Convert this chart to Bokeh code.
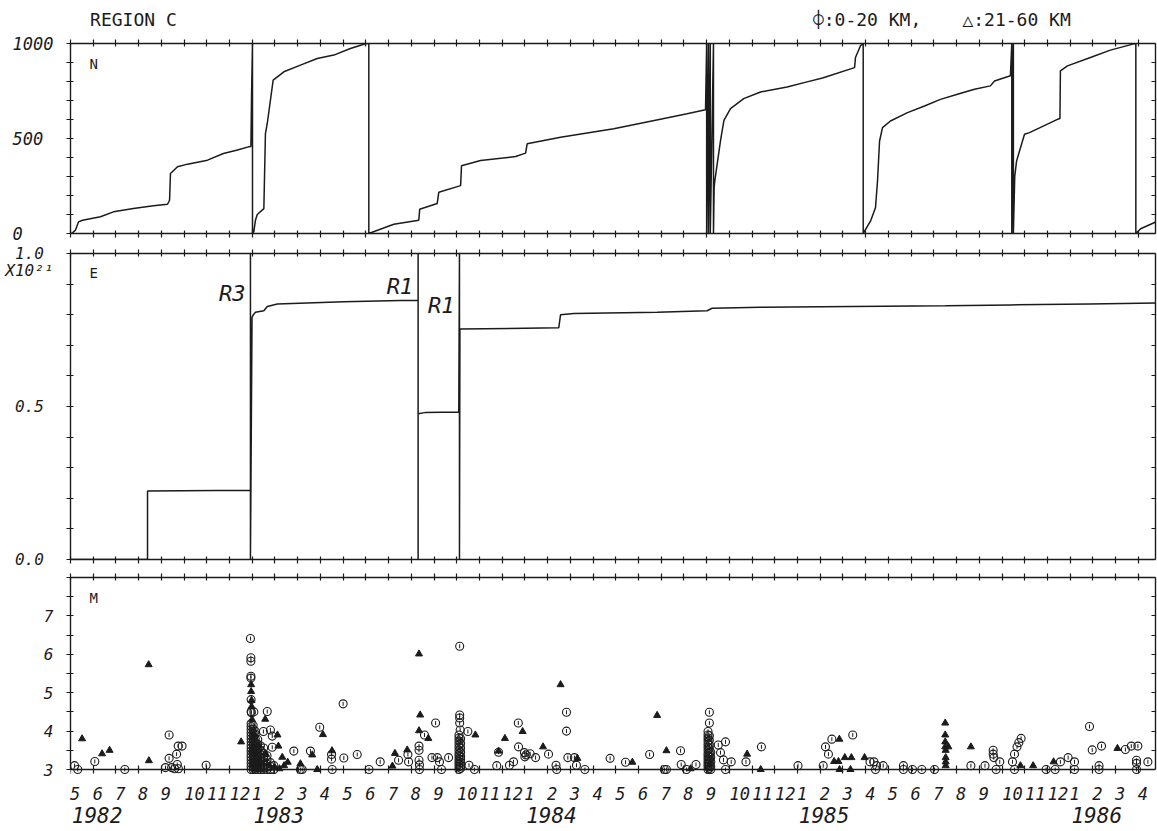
from bokeh.plotting import figure
from bokeh.layouts import column
from bokeh.models import Range1d, FixedTicker, LinearAxis, Label, CustomJSTickFormatter
from bokeh.embed import file_html
from bokeh.resources import INLINE

INK = "#1b1b1b"
FONT = "DejaVu Sans Mono"
NB = "\u00a0"

# ---------------- data (x = months since 1 May 1982) ----------------
month_ticks = list(range(48))
month_labels = ["5", "6", "7", "8", "9", "10", "11", "12",
                "1", "2", "3", "4", "5", "6", "7", "8", "9", "10", "11", "12",
                "1", "2", "3", "4", "5", "6", "7", "8", "9", "10", "11", "12",
                "1", "2", "3", "4", "5", "6", "7", "8", "9", "10", "11", "12",
                "1", "2", "3", "4"]
year_ticks = [0, 8, 20, 32, 44]
year_labels = ["1982", "1983", "1984", "1985", "1986"]

n_ticks = [0, 100, 200, 300, 400, 500, 600, 700, 800, 900, 1000]
n_labels = {0: "0" + NB * 3, 500: "500" + NB, 1000: "1000"}
e_ticks = [0.0, 0.1, 0.2, 0.3, 0.4, 0.5, 0.6, 0.7, 0.8, 0.9, 1.0]
e_labels = {0.0: "0.0" + NB, 0.5: "0.5" + NB, 1.0: "1.0" + NB, 0.943: "X10\u00b2\u00b9"}
m_ticks = [3.0, 3.5, 4.0, 4.5, 5.0, 5.5, 6.0, 6.5, 7.0, 7.5, 8.0]
m_labels = {3: "3", 4: "4", 5: "5", 6: "6", 7: "7"}

title_text = "REGION C"
legend_texts = ["\u233d:0-20 KM,", "\u25b3:21-60 KM"]

# cumulative number of events (plotted modulo 1000)
n_curve = [(0.0, 0), (0.05, 0), (0.22, 18), (0.35, 61), (0.53, 70), (1.32, 88), (1.89, 114),
           (2.77, 132), (3.65, 146), (4.27, 154), (4.36, 175), (4.40, 316), (4.71, 351),
           (5.15, 365), (6.03, 386), (6.73, 421), (7.35, 439), (7.83, 456), (7.94, 458),
           (7.97, 737), (8.01, 1000), (8.01, 0), (8.07, 10), (8.14, 70), (8.22, 100),
           (8.51, 131), (8.58, 526), (8.66, 579), (8.92, 807), (9.39, 851), (10.12, 886),
           (10.86, 921), (11.59, 939), (12.32, 974), (12.91, 996), (13.06, 1000),
           (13.13, 1000), (13.13, 0), (14.23, 49), (15.33, 70), (15.37, 128), (16.14, 158),
           (16.21, 217), (17.17, 252), (17.21, 357), (18.05, 384), (19.59, 405),
           (20.03, 423), (20.10, 472), (21.57, 507), (23.91, 551), (25.80, 597),
           (27.14, 630), (27.95, 651), (28.00, 1000), (28.00, 0), (28.08, 1000),
           (28.08, 0), (28.16, 1000), (28.16, 0), (28.30, 1000), (28.30, 0), (28.33, 243),
           (28.36, 278), (28.61, 489), (28.76, 595), (29.05, 657), (29.63, 710),
           (30.37, 745), (31.54, 771), (32.42, 798), (33.10, 818), (34.51, 873),
           (34.55, 926), (34.77, 988), (34.89, 1000), (34.89, 0), (35.21, 65),
           (35.43, 135), (35.52, 276), (35.61, 487), (35.74, 557), (36.09, 592),
           (36.84, 636), (37.59, 671), (38.29, 706), (39.04, 733), (39.79, 759),
           (40.49, 777), (40.67, 803), (41.37, 830), (41.43, 1000), (41.43, 0),
           (41.50, 1000), (41.50, 0), (41.56, 300), (41.64, 381), (41.77, 434),
           (41.99, 522), (42.21, 531), (43.44, 601), (43.55, 605), (43.57, 856),
           (43.88, 882), (44.89, 926), (45.77, 965), (46.80, 998), (46.89, 1000),
           (46.89, 0), (47.10, 25), (47.90, 68)]

# cumulative energy, units of 1e21 (plotted modulo 1.0)
e_curve = [(0.0, 0.0), (3.39, 0.0), (3.39, 0.224), (7.92, 0.226), (7.92, 1.0), (7.92, 0.0),
           (7.92, 1.0), (7.92, 0.0), (7.92, 1.0), (7.92, 0.0), (7.99, 0.791), (8.05, 0.800),
           (8.14, 0.808), (8.51, 0.813), (8.66, 0.827), (9.10, 0.835), (12.03, 0.842),
           (14.52, 0.846), (15.30, 0.846), (15.30, 1.0), (15.30, 0.0), (15.30, 0.476),
           (15.60, 0.480), (17.09, 0.482), (17.12, 1.0), (17.12, 0.0), (17.14, 0.753),
           (21.49, 0.757), (21.57, 0.800), (22.15, 0.804), (25.82, 0.808), (28.02, 0.813),
           (28.24, 0.821), (30.37, 0.824), (34.40, 0.827), (38.50, 0.829), (41.40, 0.832),
           (44.85, 0.835), (47.90, 0.838)]

# wrap markers on the energy curve: (month, E level of label, text)
e_marks = [(7.92, 0.869, "R3"), (15.30, 0.891, "R1"), (17.12, 0.829, "R1")]

# magnitude of events, depth 0-20 km
shallow = [
    (0.18, 3.1), (0.32, 3.0), (1.07, 3.21), (2.39, 3.0), (4.18, 3.05), (4.34, 3.9),
    (4.34, 3.29), (4.45, 3.05), (4.58, 3.02), (4.67, 3.4), (4.70, 3.13), (4.74, 3.61),
    (4.75, 3.02), (4.91, 3.61), (5.97, 3.11),
    (7.92, 6.41), (7.94, 5.91), (7.94, 5.82), (7.94, 5.43), (7.94, 5.38), (7.95, 4.82),
    (7.95, 4.51), (7.96, 4.48), (8.07, 4.50), (8.66, 4.51), (8.49, 3.99), (8.80, 4.03),
    (8.88, 3.87), (8.88, 3.58),
    (7.95, 3.0), (7.95, 3.08), (7.95, 3.16), (7.95, 3.24), (7.95, 3.32), (7.95, 3.4),
    (7.95, 3.48), (7.95, 3.56), (7.95, 3.64), (7.95, 3.72), (7.95, 3.8), (7.95, 3.88),
    (7.95, 3.96), (7.95, 4.04), (7.95, 4.12), (7.95, 4.2),
    (8.04, 3.0), (8.04, 3.07), (8.04, 3.15), (8.04, 3.23), (8.04, 3.31), (8.04, 3.39),
    (8.04, 3.47), (8.04, 3.55), (8.04, 3.63), (8.04, 3.71), (8.04, 3.79), (8.04, 3.87),
    (8.04, 3.95), (8.04, 4.05), (8.04, 4.15),
    (8.13, 3.0), (8.13, 3.06), (8.13, 3.13), (8.13, 3.2), (8.13, 3.28), (8.13, 3.36),
    (8.13, 3.44), (8.13, 3.52), (8.13, 3.6), (8.13, 3.7), (8.13, 3.8), (8.13, 3.92),
    (8.13, 4.0),
    (8.24, 3.0), (8.24, 3.05), (8.24, 3.12), (8.24, 3.2), (8.24, 3.28), (8.24, 3.36),
    (8.24, 3.45), (8.24, 3.55), (8.24, 3.66), (8.24, 3.78),
    (8.36, 3.0), (8.36, 3.06), (8.36, 3.14), (8.36, 3.22), (8.36, 3.3), (8.36, 3.4),
    (8.36, 3.5), (8.36, 3.62),
    (8.50, 3.0), (8.50, 3.05), (8.50, 3.12), (8.50, 3.2), (8.50, 3.3), (8.50, 3.42),
    (8.50, 3.56),
    (8.65, 3.0), (8.65, 3.06), (8.65, 3.14), (8.65, 3.24), (8.65, 3.36),
    (8.80, 3.0), (8.80, 3.08), (8.80, 3.18), (8.95, 3.0), (8.95, 3.1),
    (9.83, 3.48), (10.12, 3.0), (10.20, 3.0), (10.56, 3.48), (10.97, 4.1), (11.49, 3.39),
    (11.49, 3.27), (11.52, 3.0), (12.00, 4.71), (12.03, 3.3), (12.62, 3.39), (13.14, 3.0),
    (13.63, 3.2), (14.44, 3.24), (14.85, 3.39), (14.88, 3.2),
    (15.34, 3.61), (15.34, 3.5), (15.34, 3.24), (15.36, 3.12), (15.36, 3.0), (15.58, 3.9),
    (16.07, 4.21), (15.91, 3.31), (16.15, 3.31), (16.24, 3.2), (16.33, 3.0), (16.64, 3.31),
    (17.13, 6.21), (17.13, 4.42), (17.13, 4.34), (17.13, 4.21), (17.15, 4.03),
    (17.10, 3.0), (17.10, 3.07), (17.10, 3.14), (17.10, 3.21), (17.10, 3.28), (17.10, 3.35),
    (17.10, 3.42), (17.10, 3.5), (17.10, 3.58), (17.10, 3.66), (17.10, 3.74), (17.10, 3.82),
    (17.10, 3.9),
    (17.17, 3.03), (17.17, 3.1), (17.17, 3.18), (17.17, 3.26), (17.17, 3.34), (17.17, 3.45),
    (17.17, 3.56), (17.17, 3.68), (17.17, 3.8),
    (17.49, 3.99), (17.54, 3.11), (17.78, 3.0), (18.76, 3.1), (18.84, 3.45), (19.32, 3.11),
    (19.50, 3.2), (19.71, 4.21), (19.72, 3.59), (19.98, 3.44), (20.05, 3.38), (20.00, 3.33),
    (20.23, 3.41), (20.47, 3.31), (21.04, 3.4), (21.37, 3.11), (21.40, 3.0), (21.83, 4.49),
    (21.83, 4.0), (21.89, 3.31), (22.18, 3.31), (22.27, 3.11), (22.64, 3.0),
    (23.75, 3.29), (24.43, 3.19), (25.49, 3.39), (26.14, 3.0), (26.23, 3.0), (26.85, 3.49),
    (26.88, 3.13), (27.11, 3.0), (27.53, 3.13),
    (28.06, 3.0), (28.06, 3.07), (28.06, 3.14), (28.06, 3.21), (28.06, 3.28), (28.06, 3.35),
    (28.06, 3.42), (28.06, 3.5), (28.06, 3.58), (28.06, 3.66), (28.06, 3.74), (28.06, 3.82),
    (28.06, 3.9), (28.06, 3.99),
    (28.12, 3.03), (28.12, 3.1), (28.12, 3.18), (28.12, 3.26), (28.12, 3.34), (28.12, 3.44),
    (28.12, 3.54), (28.12, 3.64), (28.12, 3.76), (28.12, 3.88), (28.12, 4.21), (28.12, 4.49),
    (28.18, 3.0), (28.18, 3.08), (28.18, 3.2), (28.18, 3.32), (28.18, 3.45),
    (28.51, 3.64), (28.83, 3.72), (28.61, 3.44), (28.74, 3.25), (28.83, 3.0), (29.08, 3.2),
    (29.73, 3.2), (30.41, 3.59), (32.02, 3.1), (33.13, 3.1), (33.23, 3.59), (33.36, 3.4),
    (33.51, 3.79), (34.43, 3.9), (35.19, 3.2), (35.36, 3.2), (35.48, 3.1), (35.77, 3.1),
    (35.43, 3.0), (36.66, 3.1), (36.66, 3.0), (37.06, 3.0), (37.47, 3.0), (38.03, 3.0),
    (39.63, 3.1), (40.25, 3.1), (40.61, 3.5), (40.61, 3.4), (40.64, 3.31), (40.74, 3.0),
    (40.90, 3.2), (41.46, 3.2), (41.55, 3.4), (41.66, 3.59), (41.74, 3.7), (41.84, 3.81),
    (41.55, 3.0), (42.94, 3.0), (43.34, 3.0), (43.57, 3.2), (43.91, 3.31), (44.19, 3.2),
    (44.19, 3.0), (44.85, 4.12), (44.97, 3.51), (45.38, 3.61), (45.27, 3.1), (45.27, 3.0),
    (46.43, 3.52), (46.69, 3.61), (46.98, 3.61), (46.92, 3.24), (46.92, 3.16), (46.92, 3.0),
    (47.42, 3.2)]

# magnitude of events, depth 21-60 km
deep = [
    (0.51, 3.8), (1.39, 3.41), (1.72, 3.5), (3.44, 5.73), (3.45, 3.23), (7.51, 3.72),
    (7.95, 5.21), (7.95, 5.03), (7.97, 4.8), (7.97, 4.64), (7.99, 4.3), (8.57, 4.31),
    (8.00, 3.5), (8.08, 3.9), (8.20, 3.3), (8.30, 3.62), (8.45, 3.15), (8.60, 3.4),
    (8.75, 3.1), (9.00, 3.05), (9.20, 3.02), (9.40, 3.1),
    (9.11, 3.9), (9.15, 3.61), (9.32, 3.32), (9.56, 3.19), (10.12, 3.15), (10.64, 3.38),
    (10.86, 3.0), (11.11, 3.91), (11.51, 3.49), (14.17, 3.09), (14.28, 3.42), (14.82, 3.51),
    (15.34, 6.01), (15.34, 4.01), (15.39, 4.42), (15.75, 3.81), (17.82, 3.9), (18.84, 3.48),
    (19.12, 3.81), (19.90, 3.99), (20.80, 3.59), (21.57, 5.21), (22.31, 3.29), (24.73, 3.19),
    (25.82, 4.41), (26.23, 3.49), (27.29, 3.02), (29.78, 3.4), (30.38, 3.0), (33.84, 3.79),
    (33.61, 3.21), (33.80, 3.21), (34.08, 3.31), (34.37, 3.31), (33.85, 3.0), (34.33, 3.0),
    (34.95, 3.31), (38.50, 4.21), (38.50, 3.9), (38.50, 3.72), (38.50, 3.59), (38.52, 3.5),
    (38.52, 3.31), (38.52, 3.2), (38.52, 3.1), (38.64, 3.59), (39.63, 3.59), (41.81, 3.1),
    (42.37, 3.1), (43.27, 3.2), (46.08, 3.55)]

# ---------------- layout constants ----------------
W = 1157
LEFT, RIGHT = 70, 2
PX_PER_MONTH = 22.72
X_END = (W - LEFT - RIGHT) / PX_PER_MONTH

BLANK = CustomJSTickFormatter(code="return '';")


def tick_axis(ticks, tin, tout, at=None, bounds=None):
    """axis with only its line and crossing tick marks"""
    ax = LinearAxis(ticker=FixedTicker(ticks=ticks), formatter=BLANK,
                    major_tick_in=tin, major_tick_out=tout,
                    minor_tick_line_color=None,
                    major_label_text_font_size="0px", major_label_standoff=0,
                    axis_line_color=INK, axis_line_width=1.4,
                    major_tick_line_color=INK, major_tick_line_width=1.2)
    if at is not None:
        ax.fixed_location = at
    if bounds is not None:
        ax.bounds = bounds
    return ax


def label_axis(labels, size, standoff, marks=None, italic=True, bounds=None, line=False):
    """axis whose major ticks carry text only; optional minor ticks give crossing marks"""
    ticker = FixedTicker(ticks=list(labels.keys()), minor_ticks=marks or [])
    ax = LinearAxis(ticker=ticker, major_label_overrides=labels,
                    major_tick_line_color=None, major_tick_out=0, major_tick_in=0,
                    minor_tick_line_color=INK if marks else None,
                    minor_tick_in=3, minor_tick_out=4, minor_tick_line_width=1.2,
                    axis_line_color=INK if line else None, axis_line_width=1.4,
                    major_label_standoff=standoff,
                    major_label_text_font=FONT, major_label_text_font_size=size,
                    major_label_text_color=INK,
                    major_label_text_font_style="italic" if italic else "normal")
    if bounds is not None:
        ax.bounds = bounds
    return ax


def panel(height, yr, top, bottom):
    p = figure(width=W, height=height, x_range=Range1d(0, X_END), y_range=yr,
               output_backend="svg", toolbar_location=None,
               x_axis_location=None, y_axis_location=None,
               min_border_left=LEFT, min_border_right=RIGHT,
               min_border_top=top, min_border_bottom=bottom)
    p.grid.visible = False
    p.outline_line_color = None
    p.background_fill_color = "white"
    p.border_fill_color = "white"
    return p


def inside_text(p, x, y, text, size, xo=0, yo=0, align="left", italic=False):
    p.add_layout(Label(x=x, y=y, x_offset=xo, y_offset=yo, text=text,
                       text_font=FONT, text_font_size=size, text_color=INK,
                       text_font_style="italic" if italic else "normal",
                       text_align=align, text_baseline="middle"))


# ---------------- N panel ----------------
pn = panel(243, Range1d(0, 1000), 43, 10)
pn.add_layout(tick_axis(month_ticks, 3, 4), "above")
pn.add_layout(tick_axis(month_ticks, 3, 4), "below")
pn.add_layout(tick_axis(n_ticks, 4, 0), "right")
pn.add_layout(label_axis(n_labels, "17px", 13, marks=n_ticks, line=True), "left")
head_ticks = [2.77, 35.06, 41.64]
head = {head_ticks[0]: title_text, head_ticks[1]: legend_texts[0], head_ticks[2]: legend_texts[1]}
pn.add_layout(label_axis(head, "18px", 10, italic=False), "above")
pn.line([a for a, b in n_curve], [b for a, b in n_curve], line_color=INK, line_width=1.5)
inside_text(pn, 0, 1000, "N", "14px", xo=19, yo=-20)

# ---------------- E panel ----------------
pe = panel(325, Range1d(0, 1.0), 10, 9)
pe.add_layout(tick_axis(month_ticks, 3, 4), "above")
pe.add_layout(tick_axis(month_ticks, 3, 4), "below")
pe.add_layout(tick_axis(e_ticks, 4, 0), "right")
pe.add_layout(label_axis(e_labels, "16px", 13, marks=e_ticks, line=True), "left")
pe.line([a for a, b in e_curve], [b for a, b in e_curve], line_color=INK, line_width=1.5)
inside_text(pe, 0, 1.0, "E", "14px", xo=19, yo=-19)
for mx, ey, s in e_marks:
    inside_text(pe, mx, ey, s, "22px", xo=-5, align="right", italic=True)

# ---------------- M panel ----------------
pm = panel(263, Range1d(2.87, 8.0), 9, 57)
pm.add_layout(tick_axis(month_ticks, 3, 4), "above")
pm.add_layout(tick_axis(month_ticks, 4, 4, at=3.0), "below")
pm.add_layout(tick_axis(m_ticks, 4, 0, bounds=(3, 8)), "right")
pm.add_layout(label_axis(m_labels, "16px", 13, marks=m_ticks, line=True, bounds=(3, 8)), "left")
month_pos = {round(t + (0.46 if len(s) == 2 else 0.2), 3): s for t, s in zip(month_ticks, month_labels)}
pm.add_layout(label_axis(month_pos, "17px", 12), "below")
year_pos = {round(t + 1.17, 3): s for t, s in zip(year_ticks, year_labels)}
pm.add_layout(label_axis(year_pos, "21px", 4), "below")

sx = [a for a, b in shallow]
sy = [b for a, b in shallow]
pm.scatter(sx, sy, marker="circle", size=8, fill_color=None, line_color=INK, line_width=1.1)
pm.scatter(sx, sy, marker="dash", size=4, angle=1.5708, line_color=INK, line_width=1.0)
dx = [a for a, b in deep]
dy = [b for a, b in deep]
pm.scatter(dx, dy, marker="triangle", size=7, fill_color=INK, line_color=INK, line_width=1.0)
inside_text(pm, 0, 8.0, "M", "14px", xo=19, yo=-20)

layout = column(pn, pe, pm, spacing=0)
open("out.html", "w").write(file_html(layout, INLINE))
